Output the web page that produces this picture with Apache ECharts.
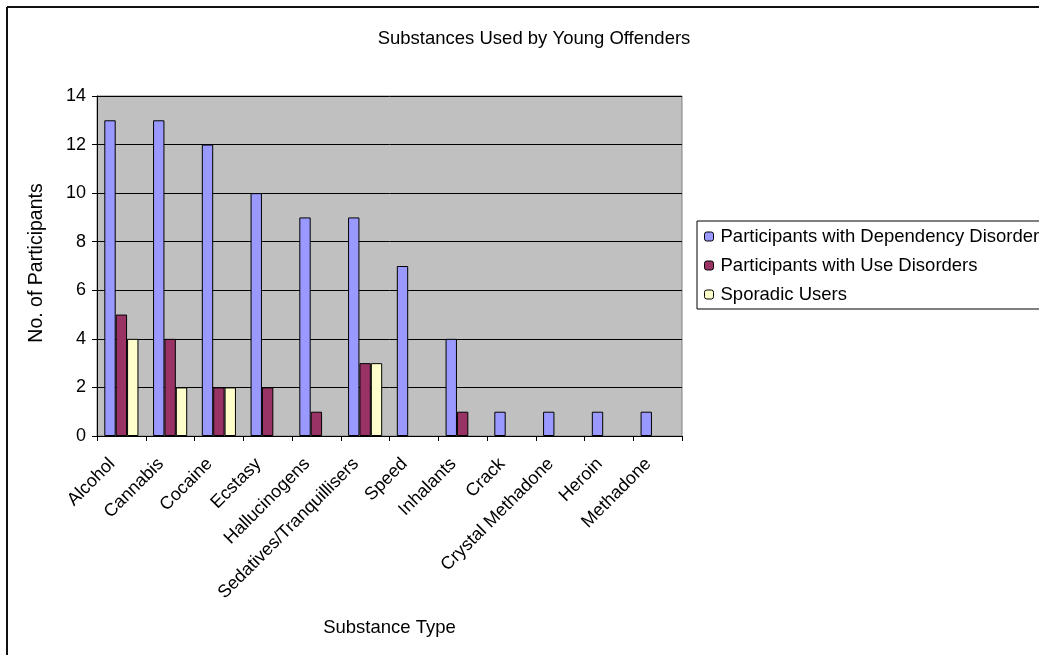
<!DOCTYPE html>
<html>
<head>
<meta charset="utf-8">
<script src="https://cdn.jsdelivr.net/npm/echarts@6/dist/echarts.min.js"></script>
<style>
html,body{margin:0;padding:0;background:#fff;}
#chart{width:1039px;height:655px;}
</style>
</head>
<body>
<div id="chart"></div>
<script>
const categories = ['Alcohol','Cannabis','Cocaine','Ecstasy','Hallucinogens','Sedatives/Tranquillisers','Speed','Inhalants','Crack','Crystal Methadone','Heroin','Methadone'];
const dependency = [13,13,12,10,9,9,7,4,1,1,1,1];
const useDisorders = [5,4,2,2,1,3,0,1,0,0,0,0];
const sporadic = [4,2,2,0,0,3,0,0,0,0,0,0];
const seriesNames = ['Participants with Dependency Disorder','Participants with Use Disorders','Sporadic Users'];
const yTicks = [0,2,4,6,8,10,12,14];

const FONT = '"Liberation Sans", Arial, sans-serif';
const colors = ['#9999FF','#993366','#FFFFCC'];
const toBar = arr => arr.map(v => v === 0 ? null : v);

const chart = echarts.init(document.getElementById('chart'));
chart.setOption({
  animation: false,
  textStyle: {fontFamily: FONT, color: '#000'},
  title: {
    text: 'Substances Used by Young Offenders',
    left: 529, top: 24, textAlign: 'center',
    textStyle: {fontFamily: FONT, fontSize: 18.5, fontWeight: 'normal', color: '#000'}
  },
  graphic: [
    {type: 'line', shape: {x1: 7, y1: 7, x2: 1039, y2: 7}, style: {stroke: '#111', lineWidth: 2}},
    {type: 'line', shape: {x1: 7, y1: 7, x2: 7, y2: 655}, style: {stroke: '#111', lineWidth: 2}}
  ],
  legend: {
    orient: 'vertical',
    left: 697, top: 221,
    padding: [6, 30, 5, 7],
    itemGap: 10,
    itemWidth: 9, itemHeight: 9,
    borderColor: '#000', borderWidth: 1,
    backgroundColor: '#fff',
    itemStyle: {borderColor: '#000', borderWidth: 1},
    textStyle: {fontFamily: FONT, fontSize: 18.5, color: '#000', padding: [0,0,0,2]},
    data: seriesNames
  },
  grid: {
    left: 97, top: 96, width: 585, height: 340,
    show: true, backgroundColor: '#C0C0C0', borderColor: '#808080', borderWidth: 1,
    containLabel: false
  },
  xAxis: {
    type: 'category',
    data: categories,
    name: 'Substance Type',
    nameLocation: 'middle',
    nameGap: 182,
    nameTextStyle: {fontFamily: FONT, fontSize: 18.5, color: '#000'},
    axisLine: {lineStyle: {color: '#000', width: 1}},
    axisTick: {show: true, length: 5, lineStyle: {color: '#000'}},
    axisLabel: {rotate: 45, fontSize: 18, color: '#000', fontFamily: FONT, margin: 16, interval: 0,
      padding: [0, 13, 0, 0]},
    splitLine: {show: false}
  },
  yAxis: {
    type: 'value',
    min: 0, max: 14, interval: 2,
    name: 'No. of Participants',
    nameLocation: 'middle',
    nameGap: 50,
    nameTextStyle: {fontFamily: FONT, fontSize: 19.5, color: '#000', padding: [0, 0, 0, 6]},
    axisLine: {show: true, lineStyle: {color: '#000', width: 1}},
    axisTick: {show: true, length: 5, lineStyle: {color: '#000'}},
    axisLabel: {fontSize: 18, color: '#000', fontFamily: FONT, margin: 11,
      formatter: v => yTicks.includes(v) ? String(v) : ''},
    splitLine: {show: true, lineStyle: {color: '#000', width: 1}}
  },
  series: [
    {name: seriesNames[0], type: 'bar', data: toBar(dependency), barGap: '0%', barCategoryGap: '30%',
     itemStyle: {color: colors[0], borderColor: '#000', borderWidth: 1}},
    {name: seriesNames[1], type: 'bar', data: toBar(useDisorders), barGap: '0%', barCategoryGap: '30%',
     itemStyle: {color: colors[1], borderColor: '#000', borderWidth: 1}},
    {name: seriesNames[2], type: 'bar', data: toBar(sporadic), barGap: '0%', barCategoryGap: '30%',
     itemStyle: {color: colors[2], borderColor: '#000', borderWidth: 1}}
  ]
});
</script>
</body>
</html>
